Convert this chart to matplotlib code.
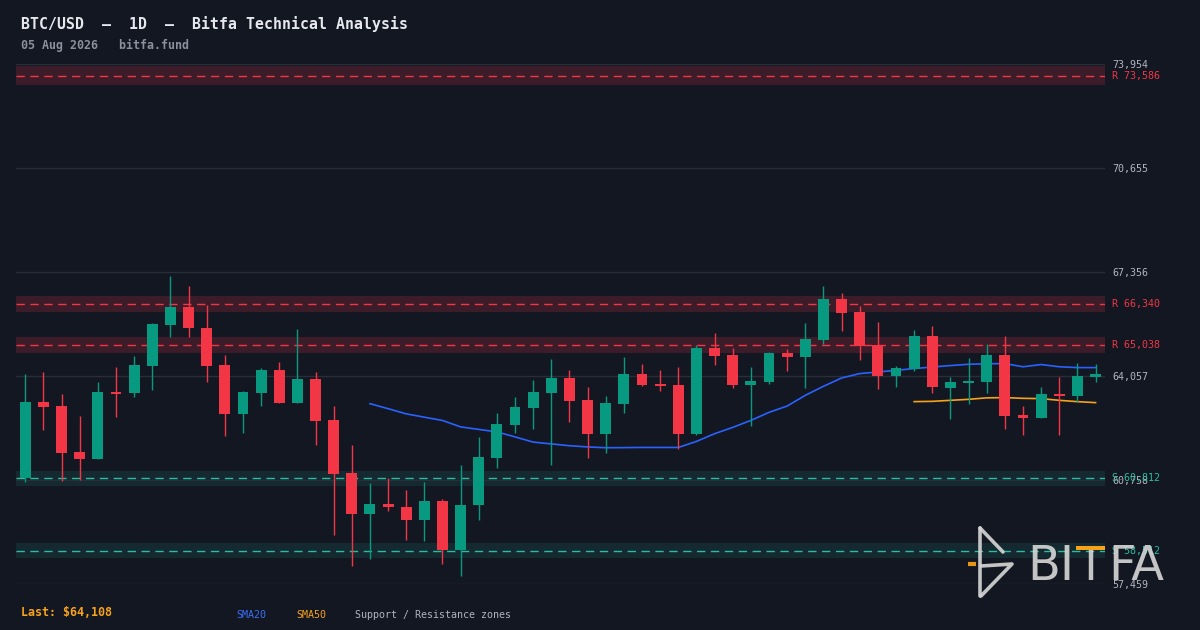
import numpy as np
import matplotlib
matplotlib.use("Agg")
import matplotlib.pyplot as plt
from matplotlib.lines import Line2D
from matplotlib.patches import Rectangle
from matplotlib.ticker import FuncFormatter
import matplotlib.transforms as mtransforms

plt.rcParams['font.family'] = ['DejaVu Sans Mono', 'DejaVu Sans']

# daily candles
opens = [60816, 63221, 63090, 61632, 61420, 63539, 63517, 64375, 65678, 66257,
         65590, 64397, 62850, 63517, 64238, 63199, 63953, 62650, 60965, 59671,
         60012, 59916, 59480, 60105, 58525, 59956, 61451, 62500, 63040, 63517,
         63984, 63285, 62214, 63167, 64111, 63793, 63762, 62214, 64938, 64715,
         63771, 63866, 64779, 64661, 65201, 66496, 66082, 65034, 64057, 64280,
         65319, 63675, 63835, 63866, 64715, 62809, 62722, 63476, 63424, 64026]
highs = [64111, 64175, 63476, 62777, 63857, 64333, 64683, 65732, 67242, 66925,
         66321, 64715, 63571, 64302, 64493, 65543, 64175, 63094, 61855, 60648,
         60807, 60425, 60680, 60169, 61219, 62109, 62872, 63380, 63920, 64588,
         64238, 63698, 63412, 64651, 64429, 64238, 64333, 65034, 65415, 64938,
         64333, 64811, 64906, 65732, 66909, 66686, 66273, 65765, 64366, 65510,
         65637, 64016, 64620, 65065, 65319, 63094, 63698, 64016, 64461, 64429]
lows = [60689, 62341, 60720, 60752, 61420, 62754, 63390, 63612, 65297, 65297,
        63857, 62150, 62246, 63104, 63199, 63199, 61864, 59005, 58019, 58241,
        59767, 58844, 58812, 58082, 57701, 59480, 61133, 62246, 62373, 61229,
        62595, 61451, 61610, 62881, 63739, 63580, 61737, 62182, 64407, 63675,
        62468, 63803, 64216, 63675, 65074, 65488, 64566, 63644, 63708, 64216,
        63517, 62691, 63167, 63517, 62373, 62182, 62722, 62182, 63231, 63866]
closes = [63221, 63072, 61610, 61420, 63539, 63476, 64397, 65700, 66257, 65567,
          64375, 62850, 63539, 64238, 63199, 63953, 62627, 60944, 59671, 60012,
          59894, 59480, 60105, 58525, 59978, 61473, 62522, 63063, 63539, 63984,
          63263, 62214, 63190, 64111, 63771, 63739, 62214, 64938, 64693, 63771,
          63889, 64779, 64661, 65224, 66496, 66060, 65011, 64057, 64302, 65319,
          63708, 63857, 63889, 64715, 62786, 62722, 63476, 63424, 64048, 64108]

# moving averages (SMA20 starts at candle 20, SMA50 at candle 50)
sma20 = [63180, 63021, 62856, 62751, 62646, 62443, 62363, 62284, 62125, 61960,
         61903, 61845, 61807, 61782, 61785, 61791, 61791, 61791, 61982, 62227,
         62427, 62649, 62904, 63104, 63444, 63730, 63994, 64134, 64184, 64238,
         64292, 64343, 64388, 64429, 64445, 64451, 64350, 64420, 64350, 64324, 64324]
sma50 = [63244, 63253, 63285, 63317, 63364, 63371, 63349, 63339, 63285, 63244, 63212]

resistances = [73586, 66340, 65038]
supports = [60812, 58512]

y_lo, y_hi = 57459, 73954

BG = '#131722'
GREEN = '#089981'
RED = '#f23645'
TEAL = '#26a69a'
TEAL_LINE = '#2bbd9e'
BLUE = '#2962ff'
ORANGE = '#f7a21b'
GRID = '#2a2e39'
TXT = '#b2b5be'

W, H = 1200, 630
fig = plt.figure(figsize=(12, 6.3), dpi=100, facecolor=BG)
ax = fig.add_axes([16 / W, 1 - 584 / H, (1105 - 16) / W, (584 - 64) / H])
ax.set_facecolor(BG)

n = len(opens)
x = np.arange(n)
o = np.array(opens); c = np.array(closes)
h = np.array(highs); l = np.array(lows)
up = c >= o
cols = np.where(up, GREEN, RED)

# zones
for lvl in resistances:
    ax.axhspan(lvl * 0.996, lvl * 1.004, color=RED, alpha=0.18, lw=0, zorder=0.5)
    ax.axhline(lvl, color=RED, lw=1, ls=(0, (6, 4)), zorder=1)
for lvl in supports:
    ax.axhspan(lvl * 0.996, lvl * 1.004, color=TEAL, alpha=0.13, lw=0, zorder=0.5)
    ax.axhline(lvl, color=TEAL_LINE, lw=1, ls=(0, (6, 4)), zorder=1)

# sma lines
ax.plot(x[n - len(sma20):], sma20, color=BLUE, lw=1.2, zorder=2)
ax.plot(x[n - len(sma50):], sma50, color=ORANGE, lw=1.2, zorder=2)

# candles
ax.vlines(x, l, h, colors=cols, lw=1, zorder=3)
ax.bar(x, np.abs(c - o), bottom=np.minimum(o, c), width=0.6, color=cols, lw=0, zorder=4)

ax.set_xlim(-0.51, n - 0.48)
ax.set_ylim(y_lo, y_hi)
ax.set_xticks([])
ticks = np.linspace(y_lo, y_hi, 6)
ax.set_yticks(ticks)
ax.yaxis.tick_right()
ax.yaxis.set_major_formatter(FuncFormatter(lambda v, p: f"{v:,.0f}"))
ax.tick_params(axis='y', length=0, pad=5, labelsize=7.2, labelcolor=TXT)
ax.grid(axis='y', color=GRID, lw=1)
ax.set_axisbelow(True)
for s in ax.spines.values():
    s.set_visible(False)

tr = mtransforms.blended_transform_factory(ax.transAxes, ax.transData)
lx = 1 + 7 / (1105 - 16)
for lvl in resistances:
    ax.text(lx, lvl, f"R {lvl:,}", transform=tr, color=RED, fontsize=7.2,
            va='center', ha='left', clip_on=False)
for lvl in supports:
    ax.text(lx, lvl, f"S {lvl:,}", transform=tr, color=TEAL_LINE, fontsize=7.2,
            va='center', ha='left', clip_on=False)

def fx(px):
    return px / W

def fy(py):
    return 1 - py / H

# header
fig.text(fx(21), fy(23.5), "BTC/USD  –  1D  –  Bitfa Technical Analysis",
         color='#e6e8ee', fontsize=10.7, fontweight='bold', va='center', ha='left')
fig.text(fx(21), fy(45), "05 Aug 2026   bitfa.fund",
         color='#8c909c', fontsize=8.4, fontweight='bold', va='center', ha='left')

# footer
fig.text(fx(21), fy(613), f"Last: ${closes[-1]:,}", color=ORANGE, fontsize=8.4,
         fontweight='bold', va='center', ha='left')
fig.text(fx(236), fy(615), "SMA20", color='#3d6ef7', fontsize=7.2, va='center', ha='left')
fig.text(fx(296), fy(615), "SMA50", color=ORANGE, fontsize=7.2, va='center', ha='left')
fig.text(fx(355), fy(615), "Support / Resistance zones", color=TXT, fontsize=7.2,
         va='center', ha='left')

# watermark logo
LOGO = '#d4d4d4'
def seg(pts, color=LOGO, lw=2.6, cap='round'):
    xs = [fx(p[0]) for p in pts]
    ys = [fy(p[1]) for p in pts]
    fig.add_artist(Line2D(xs, ys, transform=fig.transFigure, color=color, lw=lw,
                          solid_capstyle=cap, solid_joinstyle='round', alpha=0.92, zorder=5))

seg([(980, 528), (980, 596)])
seg([(980, 528), (1003, 552)])
seg([(981, 566), (1012, 564), (981, 596)])
seg([(968, 564), (976, 564)], color=ORANGE, lw=3, cap='butt')
fig.text(fx(1027), fy(580), "BI", family='DejaVu Sans', fontsize=34.5, color=LOGO,
         alpha=0.92, va='baseline', ha='left', zorder=5)
fig.text(fx(1108), fy(580), "FA", family='DejaVu Sans', fontsize=34.5, color=LOGO,
         alpha=0.92, va='baseline', ha='left', zorder=5)
seg([(1090.5, 549), (1090.5, 580)], lw=3.2, cap='butt')
fig.add_artist(Rectangle((fx(1076), fy(550)), fx(29), 4 / H, transform=fig.transFigure,
                         color=ORANGE, lw=0, zorder=5))

fig.savefig("out.png", dpi=100, facecolor=BG)
